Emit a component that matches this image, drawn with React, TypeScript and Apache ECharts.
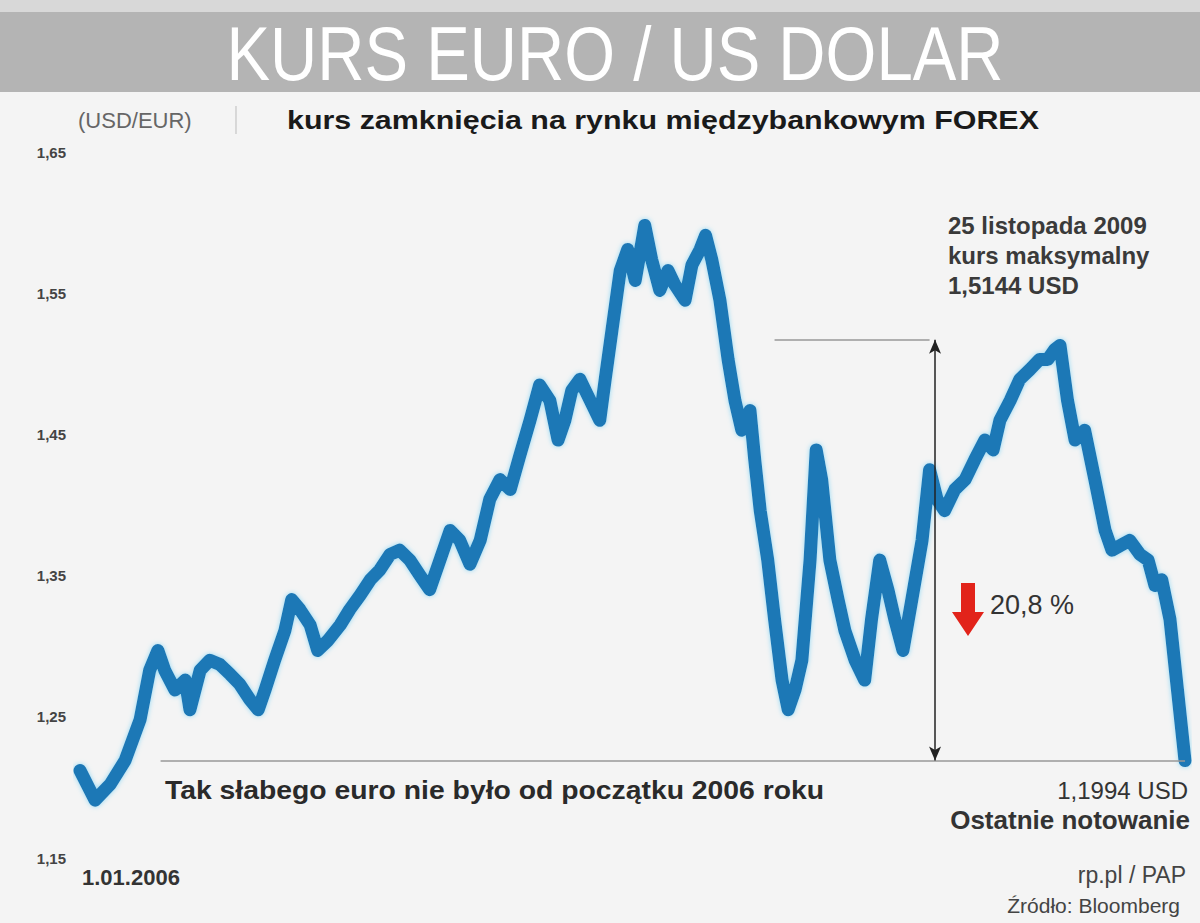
import React, { useEffect, useRef } from "react";
import * as echarts from "echarts";

// days since 1.01.2006
const dayOffsets = [
  0, 22, 44, 66, 88, 102, 114, 124, 139, 154, 161, 176, 190, 205, 220, 234, 249, 261, 271, 285,
  300, 310, 322, 337, 348, 363, 381, 395, 410, 425, 439, 454, 468, 483, 498, 512, 527, 542, 556, 571,
  586, 600, 615, 630, 644, 659, 673, 688, 700, 710, 720, 732, 747, 761, 769, 779, 791, 802, 813, 827,
  837, 849, 861, 871, 886, 896, 908, 916, 925, 937, 949, 959, 969, 981, 988, 996, 1007, 1017, 1028, 1037,
  1047, 1057, 1069, 1078, 1086, 1098, 1110, 1120, 1135, 1149, 1159, 1171, 1183, 1193, 1205, 1218, 1233, 1244, 1255, 1266,
  1281, 1296, 1310, 1325, 1337, 1347, 1362, 1376, 1391, 1405, 1417, 1427, 1435, 1446, 1457, 1471, 1486, 1501, 1511, 1526,
  1537, 1552, 1564, 1574, 1584, 1596, 1607, 1618,
];

// EUR/USD close
const rates = [
  1.212, 1.191, 1.202, 1.219, 1.248, 1.283, 1.297, 1.283, 1.269, 1.276, 1.255, 1.283, 1.290, 1.287, 1.280, 1.273, 1.262, 1.255, 1.269, 1.290,
  1.311, 1.333, 1.326, 1.315, 1.297, 1.304, 1.315, 1.326, 1.336, 1.347, 1.354, 1.365, 1.368, 1.361, 1.350, 1.340, 1.361, 1.382, 1.375, 1.358,
  1.375, 1.404, 1.418, 1.411, 1.435, 1.460, 1.485, 1.474, 1.446, 1.460, 1.481, 1.489, 1.474, 1.460, 1.489, 1.524, 1.566, 1.581, 1.559, 1.598,
  1.574, 1.552, 1.566, 1.556, 1.545, 1.570, 1.581, 1.591, 1.574, 1.545, 1.503, 1.474, 1.453, 1.467, 1.432, 1.396, 1.361, 1.319, 1.276, 1.255,
  1.269, 1.290, 1.361, 1.439, 1.418, 1.361, 1.333, 1.311, 1.290, 1.276, 1.319, 1.361, 1.340, 1.319, 1.297, 1.333, 1.375, 1.425, 1.404, 1.396,
  1.411, 1.418, 1.432, 1.446, 1.439, 1.460, 1.474, 1.489, 1.496, 1.503, 1.503, 1.510, 1.513, 1.474, 1.446, 1.453, 1.418, 1.382, 1.368, 1.372,
  1.375, 1.365, 1.361, 1.343, 1.347, 1.319, 1.269, 1.219,
];

const yTickLabels = ["1,65", "1,55", "1,45", "1,35", "1,25", "1,15"];

const title = "KURS EURO / US DOLAR";
const unitLabel = "(USD/EUR)";
const subtitle = "kurs zamknięcia na rynku międzybankowym FOREX";
const startLabel = "1.01.2006";
const lowNote = "Tak słabego euro nie było od początku 2006 roku";
const peakNote = ["25 listopada 2009", "kurs maksymalny", "1,5144 USD"];
const lastNote = ["1,1994 USD", "Ostatnie notowanie"];
const dropLabel = "20,8 %";
const credits = ["rp.pl / PAP", "Źródło: Bloomberg"];

const peakLevel = 1.517;
const lastLevel = 1.219;
const peakLineFrom = 1017;
const peakLineTo = 1244;
const arrowDay = 1252;
const lowLineFrom = 118;

const START = Date.UTC(2006, 0, 1);
const DAY = 86400000;

export default function App() {
  const ref = useRef<HTMLDivElement>(null);
  useEffect(() => {
    document.body.style.margin = "0";
    if (!ref.current) return;
    const chart = echarts.init(ref.current, null, { renderer: "svg" });
    const t = (d: number) => START + d * DAY;
    const data = dayOffsets.map((d, i) => [t(d), rates[i]]);
    const font = "'Liberation Sans', Arial, sans-serif";
    const txt = (x: number, y: number, text: string, fontSize: number, extra: any = {}) => ({
      type: "text",
      x,
      y,
      scaleX: extra.scaleX ?? 1,
      style: {
        text,
        fill: extra.fill ?? "#333",
        fontSize,
        fontWeight: extra.fontWeight ?? "normal",
        fontFamily: font,
        align: extra.align ?? "left",
        verticalAlign: "middle",
        lineHeight: extra.lineHeight,
      },
    });
    chart.setOption({
      animation: false,
      backgroundColor: "#f4f4f4",
      grid: { left: 80, right: 15, top: 152, bottom: 65 },
      xAxis: {
        type: "time",
        min: t(0),
        max: t(1618),
        show: false,
      },
      yAxis: {
        type: "value",
        min: 1.15,
        max: 1.65,
        interval: 0.05,
        axisLine: { show: false },
        axisTick: { show: false },
        splitLine: { show: false },
        axisLabel: {
          margin: 14,
          color: "#444",
          fontSize: 15,
          fontWeight: "bold",
          fontFamily: font,
          formatter: (v: number) => {
            const c = Math.round(v * 100);
            if (c % 10 !== 5) return "";
            const idx = Math.round((1.65 - v) / 0.1);
            return yTickLabels[idx] ?? "";
          },
        },
      },
      series: [
        {
          type: "line",
          data,
          showSymbol: false,
          lineStyle: {
            color: "#1f78b6",
            width: 13,
            join: "round",
            cap: "round",
            shadowColor: "rgba(120,210,245,0.8)",
            shadowBlur: 5,
          },
          z: 3,
        },
        {
          type: "line",
          data: [],
          markLine: {
            silent: true,
            symbol: ["none", "none"],
            label: { show: false },
            lineStyle: { color: "#999", width: 1.5, type: "solid" },
            data: [
              [
                { coord: [t(lowLineFrom), lastLevel] },
                { coord: [t(1618), lastLevel] },
              ],
              [
                { coord: [t(peakLineFrom), peakLevel] },
                { coord: [t(peakLineTo), peakLevel] },
              ],
            ],
          },
        },
        {
          type: "line",
          data: [],
          markLine: {
            silent: true,
            symbol: ["arrow", "arrow"],
            symbolSize: [9, 14],
            label: { show: false },
            lineStyle: { color: "#222", width: 1.5, type: "solid" },
            data: [
              [
                { coord: [t(arrowDay), peakLevel] },
                { coord: [t(arrowDay), lastLevel] },
              ],
            ],
          },
        },
      ],
      graphic: [
        { type: "rect", shape: { x: 0, y: 0, width: 1200, height: 12 }, style: { fill: "#d8d8d8" } },
        { type: "rect", shape: { x: 0, y: 12, width: 1200, height: 80 }, style: { fill: "#b4b4b4" } },
        txt(615, 54, title, 76, { fill: "#ffffff", align: "center", scaleX: 0.86 }),
        txt(78, 120, unitLabel, 22, { fill: "#666" }),
        { type: "line", shape: { x1: 236, y1: 106, x2: 236, y2: 134 }, style: { stroke: "#bbb", lineWidth: 1 } },
        txt(287, 120, subtitle, 26, { fill: "#1a1a1a", fontWeight: "bold", scaleX: 1.17 }),
        txt(948, 255, peakNote.join("\n"), 24, { lineHeight: 30, fontWeight: "bold", fill: "#3a3a3a" }),
        {
          type: "polygon",
          shape: {
            points: [
              [961, 583], [975, 583], [975, 612], [984, 612], [968, 636], [952, 612], [961, 612],
            ],
          },
          style: { fill: "#e2231a" },
        },
        txt(990, 605, dropLabel, 27, { fill: "#333" }),
        txt(165, 790, lowNote, 26, { fill: "#2a2a2a", fontWeight: "bold", scaleX: 1.09 }),
        txt(1188, 790, lastNote[0], 24, { align: "right", fill: "#333" }),
        txt(1190, 820, lastNote[1], 26, { align: "right", fill: "#333", fontWeight: "bold" }),
        txt(82, 877, startLabel, 22, { fill: "#333", fontWeight: "bold" }),
        txt(1186, 875, credits[0], 23, { align: "right", fill: "#444" }),
        txt(1180, 905, credits[1], 21, { align: "right", fill: "#444" }),
      ],
    });
    return () => chart.dispose();
  }, []);
  return <div ref={ref} style={{ width: 1200, height: 923 }} />;
}
